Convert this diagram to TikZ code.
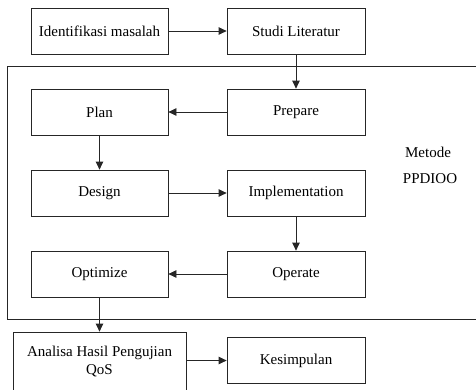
\documentclass[tikz,border=0pt]{standalone}
\usepackage{fontspec}
\setmainfont{Liberation Serif}
\usetikzlibrary{arrows.meta}
\begin{document}
\begin{tikzpicture}[x=1pt,y=-1pt,
  box/.style={draw=black!85, line width=0.8pt, minimum width=137pt, minimum height=46pt, inner sep=0pt, font=\fontsize{15}{18}\selectfont, align=center},
  conn/.style={draw=black!85, line width=0.8pt, -{Triangle[length=8pt,width=7.5pt]}},
  lbl/.style={font=\fontsize{15}{18}\selectfont}]
\useasboundingbox (0,0) rectangle (476,389);
\clip (0,0) rectangle (476,389);
\fill[white] (0,0) rectangle (476,389);
\coordinate (f1) at (7.5,66.3);
\coordinate (f2) at (490,319.3);
\draw[draw=black!85, line width=0.8pt] (f1) rectangle (f2);
\node[box] (iden) at (99.5,31) {Identifikasi masalah};
\node[box, minimum width=138pt] (studi) at (296,31) {Studi Literatur};
\node[box] (plan) at (99.5,112) {Plan};
\node[box, minimum width=138pt] (prep) at (296,112) {Prepare};
\node[box] (des) at (99.5,193) {Design};
\node[box, minimum width=138pt] (impl) at (296,193) {Implementation};
\node[box] (opt) at (99.5,274) {Optimize};
\node[box, minimum width=138pt] (oper) at (296,274) {Operate};
\node[box, minimum width=173pt, minimum height=60pt] (ana) at (99.5,362) {Analisa Hasil Pengujian\\QoS};
\node[box, minimum width=138pt] (kes) at (296,360.5) {Kesimpulan};
\node[lbl] (met) at (428,152) {Metode};
\node[lbl] (pp) at (430,179) {PPDIOO};
\draw[conn] (iden) -- (studi);
\draw[conn] (studi) -- (prep);
\draw[conn] (prep) -- (plan);
\draw[conn] (plan) -- (des);
\draw[conn] (des) -- (impl);
\draw[conn] (impl) -- (oper);
\draw[conn] (oper) -- (opt);
\draw[conn] (opt) -- (ana);
\draw[conn] (ana.east |- kes.west) -- (kes.west);
\end{tikzpicture}
\end{document}
